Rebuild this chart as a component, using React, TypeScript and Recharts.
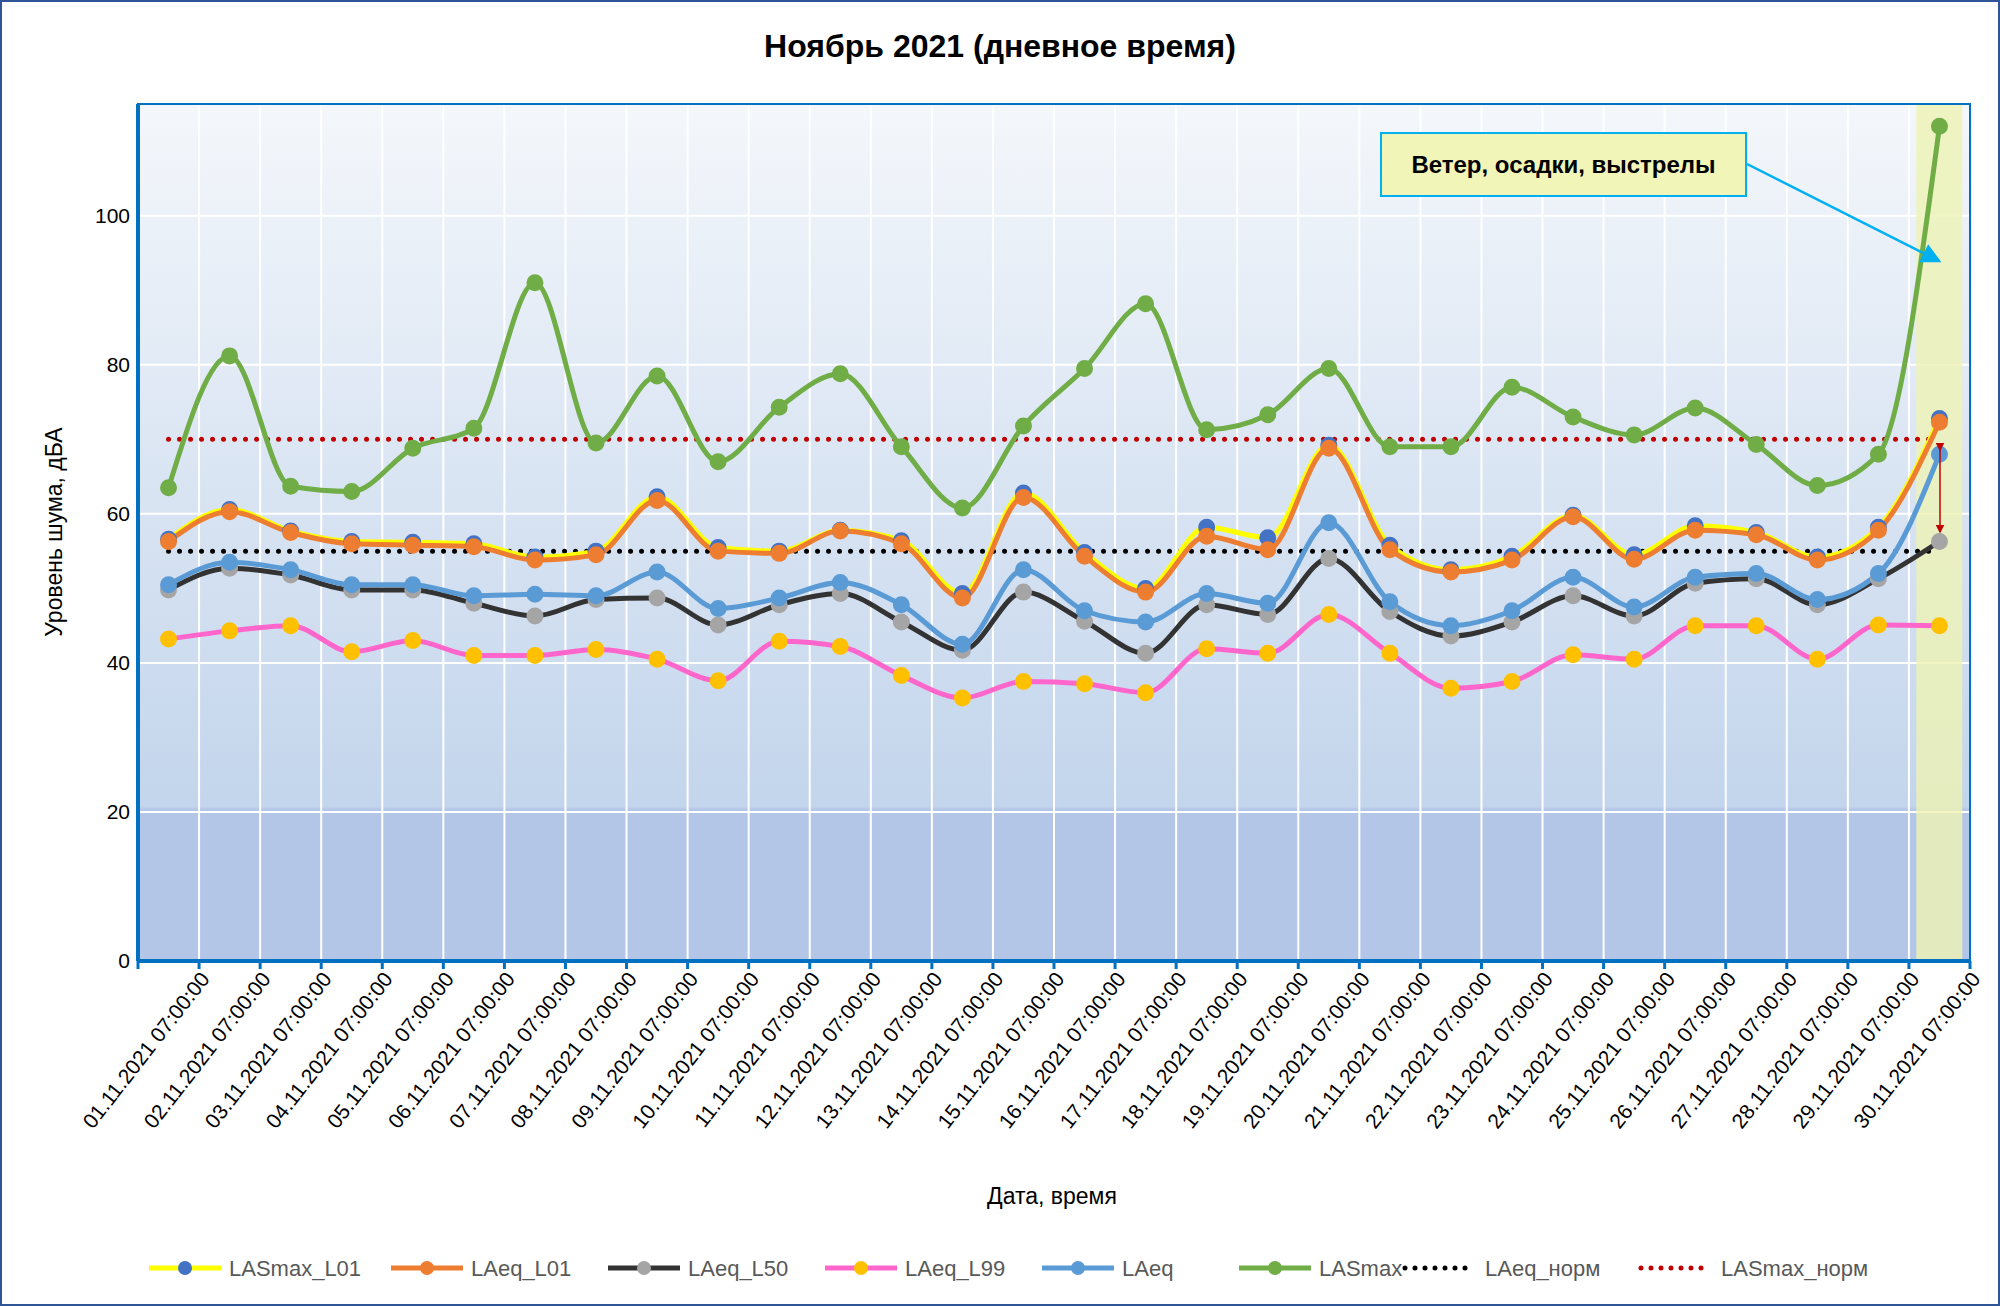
import React from "react";
import {
  ComposedChart,
  Line,
  Bar,
  XAxis,
  YAxis,
  CartesianGrid,
} from "recharts";

const dates = Array.from({ length: 30 }, (_, i) =>
  `${String(i + 1).padStart(2, "0")}.11.2021 07:00:00`
);

const lasmaxL01 = [56.6, 60.6, 57.7, 56.3, 56.2, 56, 54.2, 55, 62.3, 55.5, 55, 57.8, 56.4, 49.3, 62.8, 54.8, 50, 58.2, 56.8, 69.2, 55.8, 52.5, 54.3, 59.8, 54.5, 58.4, 57.5, 54.2, 58.2, 72.8];
const laeqL01 = [56.3, 60.3, 57.5, 56, 55.8, 55.6, 53.8, 54.5, 61.8, 55, 54.7, 57.7, 56, 48.7, 62.2, 54.3, 49.5, 57, 55.2, 68.8, 55.2, 52.2, 53.8, 59.6, 53.9, 57.8, 57.2, 53.8, 57.8, 72.3];
const laeqL50 = [49.8, 52.7, 51.8, 49.8, 49.8, 48, 46.3, 48.5, 48.7, 45.1, 47.8, 49.3, 45.5, 41.7, 49.5, 45.6, 41.3, 47.8, 46.5, 54, 46.9, 43.6, 45.5, 49, 46.3, 50.7, 51.3, 47.8, 51.3, 56.3];
const laeqL99 = [43.2, 44.3, 45, 41.5, 43, 41, 41, 41.8, 40.5, 37.6, 42.9, 42.2, 38.3, 35.3, 37.5, 37.2, 36, 41.9, 41.3, 46.5, 41.3, 36.6, 37.5, 41.1, 40.5, 45, 45, 40.5, 45.1, 45];
const laeq = [50.5, 53.5, 52.5, 50.5, 50.5, 49, 49.2, 49, 52.2, 47.3, 48.7, 50.8, 47.8, 42.5, 52.5, 47, 45.5, 49.3, 48, 58.8, 48.2, 45, 47, 51.5, 47.5, 51.5, 52, 48.5, 52, 68];
const lasmax = [63.5, 81.2, 63.7, 63, 68.8, 71.5, 91, 69.5, 78.5, 67, 74.3, 78.8, 69, 60.8, 71.8, 79.5, 88.2, 71.3, 73.3, 79.5, 69, 69, 77, 73, 70.6, 74.2, 69.3, 63.8, 68, 112];
const laeqNorm = 55;
const lasmaxNorm = 70;
const highlightDay = 29;

const data = dates.map((d, i) => ({
  date: d,
  lasmaxL01: lasmaxL01[i],
  laeqL01: laeqL01[i],
  laeqL50: laeqL50[i],
  laeqL99: laeqL99[i],
  laeq: laeq[i],
  lasmax: lasmax[i],
  laeqNorm,
  lasmaxNorm,
  hl: i === highlightDay ? 115 : null,
}));

const FONT = "'Liberation Sans', Arial, sans-serif";
const W = 2000;
const H = 1306;
const PL = 136;
const PR = 1968;
const PT = 102;
const PB = 959;
const band = (PR - PL) / dates.length;
const vPoints = Array.from({ length: dates.length + 1 }, (_, i) => PL + i * band);

const legendItems = [
  { name: "LASmax_L01", line: "#ffff00", dot: "#4472c4", x: 147 },
  { name: "LAeq_L01", line: "#ed7d31", dot: "#ed7d31", x: 389 },
  { name: "LAeq_L50", line: "#333333", dot: "#a5a5a5", x: 606 },
  { name: "LAeq_L99", line: "#ff66cc", dot: "#ffc000", x: 823 },
  { name: "LAeq", line: "#5b9bd5", dot: "#5b9bd5", x: 1040 },
  { name: "LASmax", line: "#70ad47", dot: "#70ad47", x: 1237 },
  { name: "LAeq_норм", line: "#000000", dot: null, x: 1403, dotted: true },
  { name: "LASmax_норм", line: "#c00000", dot: null, x: 1639, dotted: true },
];

const XTick = (props: any) => {
  const { x, y, payload } = props;
  return (
    <g transform={`translate(${x + band / 2 + 6},${y + 6})`}>
      <text transform="rotate(-52)" textAnchor="end" fontSize={21} fontFamily={FONT} fill="#000" dy={7}>
        {payload.value}
      </text>
    </g>
  );
};

const series = [
  { key: "laeqL99", line: "#ff66cc", dot: "#ffc000" },
  { key: "laeqL50", line: "#333333", dot: "#a5a5a5" },
  { key: "laeq", line: "#5b9bd5", dot: "#5b9bd5" },
  { key: "lasmaxL01", line: "#ffff00", dot: "#4472c4" },
  { key: "laeqL01", line: "#ed7d31", dot: "#ed7d31" },
  { key: "lasmax", line: "#70ad47", dot: "#70ad47" },
];

export default function App() {
  return (
    <div style={{ position: "absolute", left: 0, top: 0, width: W, height: H, background: "#fff", fontFamily: FONT, boxSizing: "border-box", border: "2px solid #2f5597" }}>
      <div style={{ position: "absolute", top: 26, width: "100%", textAlign: "center", fontSize: 32, fontWeight: "bold" }}>
        Ноябрь 2021 (дневное время)
      </div>
      <div style={{ position: "absolute", left: PL, top: PT, width: PR - PL, height: PB - PT, background: "linear-gradient(#f4f7fb 0%, #c3d5ec 82%, #b4c6e7 82.3%, #b4c6e7 100%)" }} />
      <div style={{ position: "absolute", left: 0, top: 0 }}>
        <ComposedChart width={W} height={H} data={data} barCategoryGap="12%" margin={{ top: PT, right: W - PR, left: PL - 70, bottom: H - PB - 240 }}>
          <CartesianGrid stroke="#ffffff" strokeWidth={2} verticalPoints={vPoints} />
          <XAxis dataKey="date" interval={0} tick={<XTick />} height={240} axisLine={{ stroke: "#0070c0", strokeWidth: 4 }} tickLine={false} />
          <YAxis domain={[0, 115]} ticks={[0, 20, 40, 60, 80, 100]} width={70} tick={{ fontSize: 21, fill: "#000", fontFamily: FONT }} axisLine={{ stroke: "#0070c0", strokeWidth: 4 }} tickLine={false} allowDataOverflow />
          <Bar dataKey="hl" fill="#eef3b4" fillOpacity={0.8} isAnimationActive={false} />
          <Line dataKey="laeqNorm" stroke="#000" strokeWidth={5} strokeDasharray="0 11" strokeLinecap="round" dot={false} isAnimationActive={false} />
          <Line dataKey="lasmaxNorm" stroke="#c00000" strokeWidth={5} strokeDasharray="0 11" strokeLinecap="round" dot={false} isAnimationActive={false} />
          {series.map((s) => (
            <Line key={s.key} type="monotone" dataKey={s.key} stroke={s.line} strokeWidth={5} dot={{ r: 6, fill: s.dot, stroke: s.dot }} isAnimationActive={false} />
          ))}
        </ComposedChart>
      </div>
      <svg width={W} height={H} style={{ position: "absolute", left: 0, top: 0, pointerEvents: "none" }}>
        <defs>
          <marker id="blueArrow" markerWidth="8" markerHeight="8" refX="6" refY="4" orient="auto">
            <path d="M0,0 L8,4 L0,8 z" fill="#00b0f0" />
          </marker>
          <marker id="redArrow" markerWidth="6" markerHeight="6" refX="5" refY="3" orient="auto">
            <path d="M0,0 L6,3 L0,6 z" fill="#c00000" />
          </marker>
        </defs>
        <rect x={PL} y={PT} width={PR - PL} height={PB - PT} fill="none" stroke="#0070c0" strokeWidth={2} />
        <line x1={1745} y1={162} x2={1935} y2={258} stroke="#00b0f0" strokeWidth={2.5} markerEnd="url(#blueArrow)" />
        <line x1={1938} y1={448} x2={1938} y2={530} stroke="#c00000" strokeWidth={1.5} markerStart="url(#redArrow)" markerEnd="url(#redArrow)" />
        <line x1={PL} y1={PB} x2={PR} y2={PB} stroke="#0070c0" strokeWidth={4} />
        {vPoints.map((x, i) => (
          <line key={i} x1={x} y1={PB} x2={x} y2={PB + 8} stroke="#0070c0" strokeWidth={3} />
        ))}
      </svg>
      <div style={{ position: "absolute", left: 1378, top: 130, width: 367, height: 65, boxSizing: "border-box", background: "#f2f5b8", border: "2px solid #00b0f0", display: "flex", alignItems: "center", justifyContent: "center", fontSize: 24, fontWeight: "bold" }}>
        Ветер, осадки, выстрелы
      </div>
      <div style={{ position: "absolute", left: 52, top: 530, transform: "translate(-50%,-50%) rotate(-90deg)", fontSize: 23, whiteSpace: "nowrap" }}>
        Уровень шума, дБА
      </div>
      <div style={{ position: "absolute", top: 1181, left: 0, width: W, textAlign: "center", fontSize: 23, paddingLeft: 50 }}>
        Дата, время
      </div>
      <svg width={W} height={40} style={{ position: "absolute", left: 0, top: 1247 }}>
        {legendItems.map((it) => (
          <g key={it.name}>
            {it.dotted ? (
              <line x1={it.x} y1={19} x2={it.x + 70} y2={19} stroke={it.line} strokeWidth={5} strokeDasharray="0 10" strokeLinecap="round" />
            ) : (
              <line x1={it.x} y1={19} x2={it.x + 72} y2={19} stroke={it.line} strokeWidth={5} />
            )}
            {it.dot && <circle cx={it.x + 36} cy={19} r={7} fill={it.dot} />}
            <text x={it.x + 80} y={27} fontSize={22} fill="#595959" fontFamily={FONT}>
              {it.name}
            </text>
          </g>
        ))}
      </svg>
    </div>
  );
}
